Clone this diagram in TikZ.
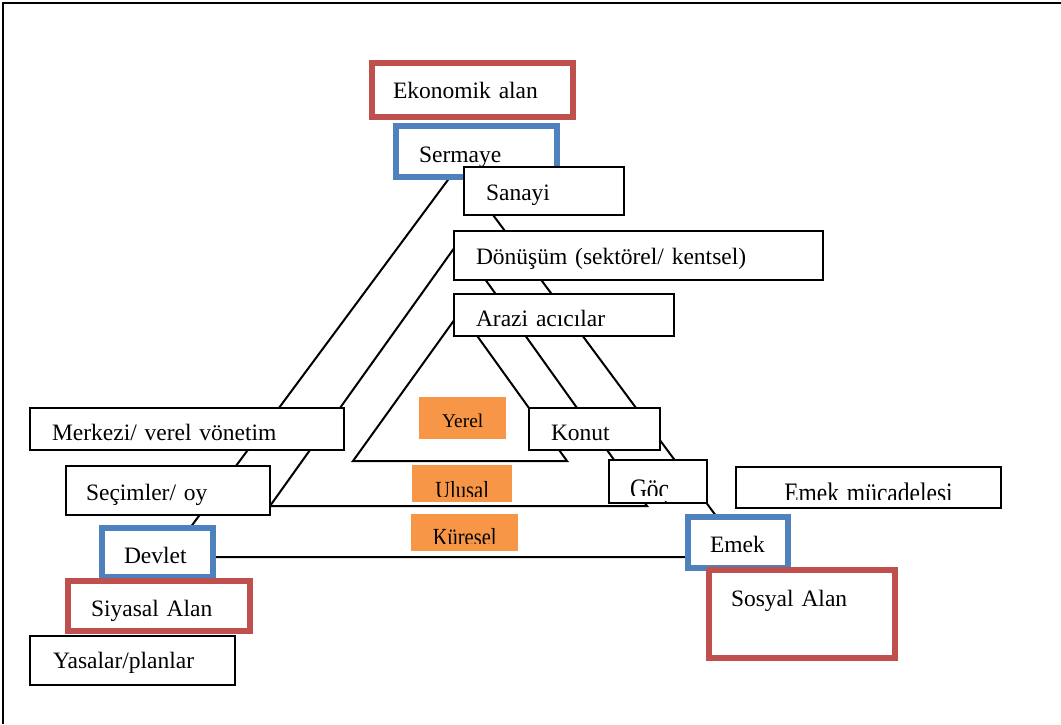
\documentclass[tikz,border=0pt]{standalone}
\usepackage{fontspec}
\setmainfont{Liberation Serif}
\definecolor{ored}{HTML}{C0504D}
\definecolor{oblue}{HTML}{4F81BD}
\definecolor{oorange}{HTML}{F79646}
\newcommand{\tallt}[1]{\scalebox{1}[1.2]{#1}}
\begin{document}
\begin{tikzpicture}[x=1pt,y=-1pt,
  every node/.style={font=\fontsize{23.5}{28}\selectfont},
  bx/.style={draw=black, line width=2pt, fill=white, anchor=north west, inner ysep=0pt, text depth=0pt, align=left},
  redbx/.style={bx, draw=ored, line width=6pt},
  bluebx/.style={bx, draw=oblue, line width=6pt},
  orbx/.style={fill=oorange, anchor=north west, inner sep=0pt, text depth=0pt, align=center, font=\fontsize{20.5}{24}\selectfont},
  tri/.style={draw=black, line width=2pt},
  mask/.style={fill=white}]
\useasboundingbox (0,0) rectangle (1061,724);
% frame
\coordinate (f0) at (3,3);
\coordinate (f1) at (1061,3);
\coordinate (f2) at (3,724);
\draw[line width=2pt] (f1) -- (f0) -- (f2);
% triangles
\coordinate (oA) at (457.5,167);
\coordinate (oL) at (168.5,557);
\coordinate (oR) at (746.5,557);
\coordinate (mA) at (458.5,242);
\coordinate (mL) at (270,506);
\coordinate (mR) at (647,506);
\coordinate (iA) at (460,312);
\coordinate (iL) at (353,461);
\coordinate (iR) at (567,461);
\draw[tri] (oA) -- (oL) -- (oR) -- cycle;
\draw[tri] (mA) -- (mL) -- (mR) -- cycle;
\draw[tri] (iA) -- (iL) -- (iR) -- cycle;
% boxes
\node (ekon) [redbx, minimum width=201pt, minimum height=54pt, inner xsep=21pt, text width=159pt, text height=16pt] at (369,60) {Ekonomik alan};
\node (serm) [bluebx, minimum width=161pt, minimum height=51pt, inner xsep=23pt, text width=115pt, text height=21pt] at (393,123) {Sermaye};
\node (sanayi) [bx, minimum width=160pt, minimum height=48pt, inner xsep=22pt, text width=116pt, text height=18pt] at (463,166) {Sanayi};
\node (donusum) [bx, minimum width=369pt, minimum height=49pt, inner xsep=22pt, text width=325pt, text height=17pt] at (453,230) {Dönüşüm (sektörel/ kentsel)};
\node (arazi) [bx, minimum width=220pt, minimum height=42pt, inner xsep=22pt, text width=176pt, text height=22pt] at (453,293) {Arazi acıcılar};
\node (merkezi) [bx, minimum width=314pt, minimum height=42pt, inner xsep=22pt, text width=270pt, text height=22pt] at (29,407) {Merkezi/ verel vönetim};
\node (secim) [bx, minimum width=204pt, minimum height=49pt, inner xsep=20pt, text width=164pt, text height=19pt] at (65,465) {Seçimler/ oy};
\node (devlet) [bluebx, minimum width=111pt, minimum height=49pt, inner xsep=22pt, text width=67pt, text height=21pt] at (99,525) {Devlet};
\node (siyasal) [redbx, minimum width=182pt, minimum height=50pt, inner xsep=23pt, text width=136pt, text height=20pt] at (65,578) {Siyasal Alan};
\node (yasalar) [bx, minimum width=205pt, minimum height=49pt, inner xsep=23pt, text width=159pt, text height=15pt] at (29,635) {Yasalar/planlar};
\node (konut) [bx, minimum width=131pt, minimum height=42pt, inner xsep=22pt, text width=87pt, text height=22pt] at (528,407) {Konut};
\node (goc) [bx, minimum width=98pt, minimum height=43pt, inner xsep=21pt, text width=56pt, text height=33pt] at (608,459) {\tallt{Göç}};
\fill[mask] (609.5,495.5) rectangle (704.5,500.8);
\node (emekm) [bx, minimum width=265pt, minimum height=41pt, inner xsep=10pt, text width=245pt, text height=30pt, align=center] at (735,466) {\tallt{Emek mücadelesi}};
\fill[mask] (736.5,500) rectangle (998.8,505.8);
\node (emek) [bluebx, minimum width=100pt, minimum height=51pt, inner xsep=22pt, text width=56pt, text height=19pt] at (685,514) {Emek};
\node (sosyal) [redbx, minimum width=186pt, minimum height=88pt, inner xsep=22pt, text width=142pt, text height=16pt, text depth=32pt] at (706,567) {Sosyal Alan};
\node (yerel) [orbx, minimum width=87pt, minimum height=42pt, text height=18pt, font=\fontsize{19.4}{23}\selectfont] at (419,397) {Yerel};
\node (ulusal) [orbx, minimum width=100pt, minimum height=37pt, text height=29pt] at (412,465) {\tallt{Ulusal}};
\fill[oorange] (412,496.5) rectangle (512,502);
\node (kuresel) [orbx, minimum width=107pt, minimum height=37pt, text height=25pt] at (411,514) {\tallt{Küresel}};
\fill[oorange] (411,544) rectangle (518,551);
\end{tikzpicture}
\end{document}
